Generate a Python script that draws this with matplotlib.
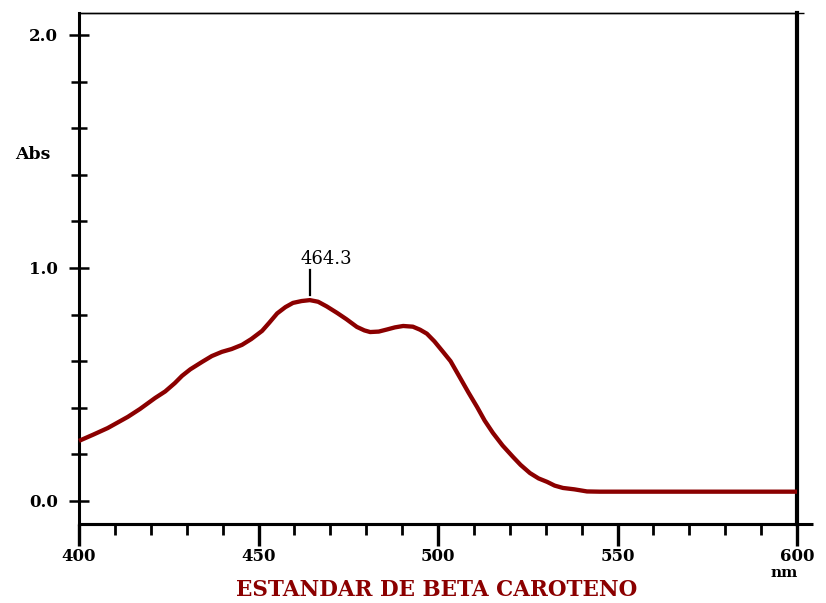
import matplotlib
matplotlib.use("Agg")
import matplotlib.pyplot as plt
from matplotlib.ticker import MultipleLocator, FixedLocator
import matplotlib.transforms as mtransforms

# ---- data ----
wavelength = [400.0, 404.0, 408.0, 413.6, 417.0, 421.2, 424.0, 426.7, 428.7, 431.0,
              434.3, 437.0, 439.8, 442.5, 445.4, 448.0, 451.0, 453.0, 455.2, 457.5,
              459.6, 462.0, 464.3, 466.6, 469.0, 471.9, 474.5, 477.4, 479.5, 481.1,
              483.5, 485.8, 488.0, 490.3, 493.0, 495.0, 496.9, 499.0, 501.4, 503.5,
              506.1, 508.5, 510.9, 513.0, 515.3, 518.0, 520.9, 523.0, 525.6, 528.0,
              530.4, 532.5, 534.8, 538.0, 541.5, 545.0, 600.0]
absorbance = [0.258, 0.285, 0.313, 0.361, 0.395, 0.442, 0.470, 0.506, 0.537, 0.565,
              0.597, 0.622, 0.640, 0.652, 0.670, 0.695, 0.730, 0.765, 0.805, 0.832,
              0.850, 0.858, 0.862, 0.855, 0.835, 0.807, 0.780, 0.747, 0.732, 0.725,
              0.727, 0.736, 0.745, 0.751, 0.748, 0.735, 0.718, 0.685, 0.640, 0.600,
              0.530, 0.465, 0.403, 0.345, 0.292, 0.238, 0.189, 0.155, 0.120, 0.097,
              0.082, 0.066, 0.056, 0.050, 0.041, 0.040, 0.040]
peak_nm = 464.3
peak_label = "464.3"
x_ticks = [400, 450, 500, 550, 600]
x_tick_labels = ["400", "450", "500", "550", "600"]
y_ticks = [0.0, 1.0, 2.0]
y_tick_labels = ["0.0", "1.0", "2.0"]
title = "ESTANDAR DE BETA CAROTENO"

curve_color = "#8b0000"
serif = ["DejaVu Serif"]

fig = plt.figure(figsize=(8.26, 6.03), dpi=100)
ax = fig.add_axes([79 / 826, 79 / 603, 718 / 826, 511 / 603])

ax.plot(wavelength, absorbance, color=curve_color, lw=3.1, solid_capstyle="butt",
        solid_joinstyle="round", clip_on=False, zorder=3)

ax.set_xlim(400, 600)
ax.set_ylim(-0.0987, 2.094)

# spines
for s in ["left", "bottom"]:
    ax.spines[s].set_linewidth(2.2)
ax.spines["right"].set_linewidth(3.0)
ax.spines["top"].set_linewidth(1.0)

# extensions of the frame lines
ax.plot([0, 1.022], [0, 0], transform=ax.transAxes, color="black", lw=2.2,
        clip_on=False, solid_capstyle="butt")
ax.plot([0, 1.01], [1, 1], transform=ax.transAxes, color="black", lw=1.0,
        clip_on=False, solid_capstyle="butt")

# x ticks
ax.xaxis.set_major_locator(FixedLocator(x_ticks))
ax.set_xticklabels(x_tick_labels)
ax.xaxis.set_minor_locator(MultipleLocator(10))
ax.tick_params(axis="x", which="major", direction="out", length=16, width=2.4, pad=1,
               labelsize=12)
ax.tick_params(axis="x", which="minor", direction="out", length=8, width=2.0)

# y ticks
ax.yaxis.set_major_locator(FixedLocator(y_ticks))
ax.set_yticklabels(y_tick_labels)
ax.yaxis.set_minor_locator(FixedLocator([0.2, 0.4, 0.6, 0.8, 1.2, 1.4, 1.6, 1.8]))
ax.tick_params(axis="y", which="major", direction="inout", length=14, width=1.8, pad=8,
               labelsize=12)
ax.tick_params(axis="y", which="minor", direction="inout", length=12, width=1.8)

for lab in ax.get_xticklabels() + ax.get_yticklabels():
    lab.set_family(serif)
    lab.set_fontweight("bold")

# peak marker
ax.plot([peak_nm, peak_nm], [0.885, 0.99], color="black", lw=1.6, zorder=4)
ax.text(peak_nm, 1.0, peak_label, ha="left", va="bottom", fontsize=13,
        family=serif, color="black",
        transform=ax.transData + mtransforms.ScaledTranslation(-9 / 100, 0, fig.dpi_scale_trans))

# axis labels
trans_y = mtransforms.blended_transform_factory(ax.transAxes, ax.transData)
ax.text(-0.065, 1.485, "Abs", ha="center", va="center", fontsize=12.5,
        fontweight="bold", family=serif, transform=trans_y)
ax.text(596.5, -0.31, "nm", ha="center", va="center", fontsize=11,
        fontweight="bold", family=serif, clip_on=False)

fig.text(0.529, 0.0216, title, ha="center", va="center", fontsize=15.5,
         fontweight="bold", family=serif, color=curve_color)

fig.savefig("out.png", dpi=100)
